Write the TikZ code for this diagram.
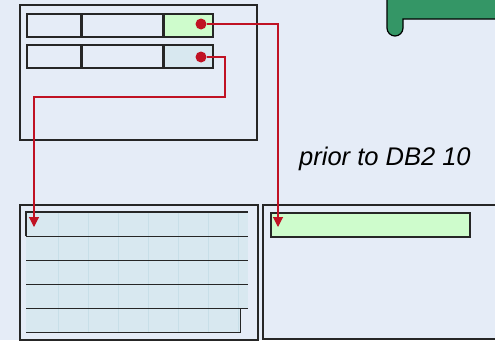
\documentclass[tikz,border=0pt]{standalone}
\usepackage{fontspec}
\usepackage{tikz}
\usetikzlibrary{arrows.meta}
\newfontfamily\slidefont{Liberation Sans}

\definecolor{slidebg}{RGB}{229,236,247}
\definecolor{cellgreen}{RGB}{206,252,204}
\definecolor{cellblue}{RGB}{216,232,240}
\definecolor{gridblue}{RGB}{200,223,232}
\definecolor{linkred}{RGB}{192,18,36}
\definecolor{tabgreen}{RGB}{52,150,102}

\begin{document}
\begin{tikzpicture}
		[x=1pt, y=-1pt,
		frame/.style={draw=black!85, line width=2pt, inner sep=0pt, anchor=north west},
		cell/.style={draw=black!85, line width=1.5pt, inner sep=0pt, anchor=north west, minimum height=23pt},
		strip/.style={fill=cellblue, inner sep=0pt, anchor=north west, minimum height=24pt},
		dot/.style={circle, fill=linkred, inner sep=0pt, minimum size=11pt},
		link/.style={draw=linkred, line width=1.1pt, -{Triangle[width=10pt,length=10pt]}}]
		\fill[slidebg] (0,0) rectangle (495,340);
		\useasboundingbox (0,0) rectangle (495,340);

		% green tab, cut at the top edge
		\draw[fill=tabgreen, line width=1.2pt] (387,-5) -- (387,28) arc[start angle=180, end angle=360, radius=8pt]
			-- (403,19) -- (500,19) -- (500,-5) -- cycle;

		% index page
		\node[frame, minimum width=237pt, minimum height=135pt] (ixpage) at (19,4) {};
		\node[cell, minimum width=54pt] (keyA) at (26,13) {};
		\node[cell, minimum width=80pt] (valA) at (keyA.north east) {};
		\node[cell, fill=cellgreen, minimum width=49pt] (ridA) at (valA.north east) {};
		\node[cell, minimum width=54pt] (keyB) at (26,44) {};
		\node[cell, minimum width=80pt] (valB) at (keyB.north east) {};
		\node[cell, fill=cellblue, minimum width=49pt] (ridB) at (valB.north east) {};
		\node[dot] (srcA) at (201,24) {};
		\node[dot] (srcB) at (201,57) {};

		% data page with rows
		\node[frame, minimum width=238pt, minimum height=135pt] (datapage) at (19,204) {};
		\node[strip, minimum width=222pt] (row1) at (26,212) {};
		\node[strip, minimum width=222pt] (row2) at (26,236) {};
		\node[strip, minimum width=222pt] (row3) at (26,260) {};
		\node[strip, minimum width=222pt] (row4) at (26,284) {};
		\node[strip, minimum width=214pt] (row5) at (26,308) {};
		\foreach \x in {58,88,...,238}
			\draw[gridblue, line width=0.5pt] (\x,212) -- (\x,332);
		\draw[line width=1.5pt, black!85] (row1.south west) -- (row1.north west) -- (row1.north east);
		\foreach \r in {1,2,3,4}
			\draw[line width=1.5pt, black!85] (row\r.south west) -- (row\r.south east);
		\draw[line width=1.5pt, black!85] (row5.south west) -- (row5.south east) -- (row5.north east);

		% overflow page
		\node[frame, minimum width=240pt, minimum height=134pt] (ovpage) at (262,204) {};
		\node[cell, fill=cellgreen, minimum width=199pt, minimum height=24pt] (ovrow) at (270,212) {};

		\node[font=\slidefont\itshape\fontsize{25.5}{30}\selectfont, anchor=base west, inner sep=0pt] (note) at (299,165) {prior to DB2 10};

		% pointers
		\coordinate (tipA) at (278,227);
		\coordinate (bendB) at (225,97);
		\coordinate (tipB) at (34,227);
		\draw[link] (srcA) -| (tipA);
		\draw[link] (srcB) -| (bendB) -| (tipB);
	\end{tikzpicture}
\end{document}
